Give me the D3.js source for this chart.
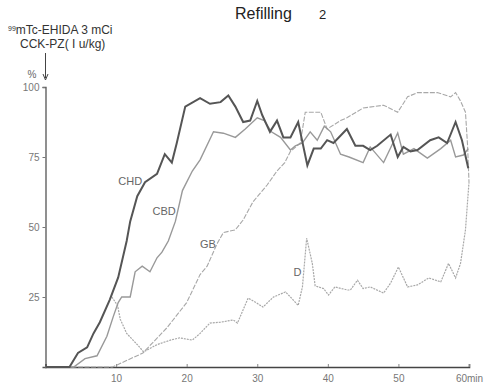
<!DOCTYPE html>
<html>
<head>
<meta charset="utf-8">
<script src="https://cdn.jsdelivr.net/npm/d3@7"></script>
<style>
  body { margin: 0; background: #fff; }
  svg { display: block; font-family: "Liberation Sans", Arial, sans-serif; }
</style>
</head>
<body>
<svg id="chart" width="497" height="389"></svg>
<script>
// minutes after injection, % of max counts
const chd = [[0,0],[3.4,0],[4.6,5],[5.9,7],[6.8,12],[7.7,16],[9.1,24],[10.3,32],[11.5,45],[12,52],[13,61],[14.1,66],[15.8,69],[16.9,76],[17.9,73],[18.6,80],[19.8,93],[21.9,96],[23.3,94],[24.8,94.6],[25.9,97],[26.9,93],[28,87.5],[29,88],[30,95],[30.7,90],[31.8,84],[32.8,88],[33.7,82],[34.7,82],[35.8,87.5],[37.1,72],[38,78],[39,78],[39.9,81],[40.8,80],[42.7,85],[43.9,79],[45,79],[46,77.5],[47,79],[48.9,83],[49.9,75],[50.7,78.6],[51.7,77],[52.7,77.5],[54.5,81],[55.7,82],[56.9,80],[58.1,87.5],[59,81],[59.9,71]];
const cbd = [[0,0],[4,0],[5.6,3],[7.3,4],[8.7,11],[9.6,18],[10.3,23],[10.8,25],[12,25],[12.7,34],[13.7,36],[14.8,34],[15.8,39],[16.5,41],[17.4,45],[18.4,52],[19.4,63],[20.8,70],[21.9,74],[23.8,84],[25.2,83.5],[26.9,82],[28.3,85],[30,89],[31,88],[32,84],[33.3,82],[34.7,77.5],[35.4,79],[36.4,80],[37.5,84],[38.5,81],[39.5,86],[40.4,84],[41.8,76],[43,75],[45,73],[46,78.6],[47.9,73],[49.9,83.6],[50.7,76],[52.2,78],[54.1,74.6],[56,78],[57.4,81],[58.1,75],[59.2,75.7],[59.9,78]];
const gb = [[0,0],[9.5,0],[13.8,5],[17.2,14],[20,23],[21.9,33],[22.9,36],[24.3,44],[25.2,48],[26.9,49],[28,52.5],[29.4,59],[30.4,62],[31.4,65],[32.8,70],[33.9,73],[34.7,77],[36.1,80],[36.8,91],[39,91],[39.9,85],[41.8,88],[42.7,89],[45,92.5],[47.9,93.5],[49.9,91],[51.3,96.5],[52.7,98],[55.5,98],[57.4,96.5],[58.1,98],[58.8,95],[59.5,91],[59.8,79],[60,66]];
const dd = [[9.4,25],[10.2,22],[10.6,17],[11.5,12],[13,8],[13.9,5.4],[15.8,8],[17.7,9.6],[19,10.4],[20.8,9.6],[21.9,12],[23.3,15.7],[24.8,16],[26.6,16.8],[27.2,15.7],[28.7,24.6],[29.9,22.9],[30.8,21.4],[32.3,25],[34,26.8],[34.7,25],[35.8,22],[36.4,28.6],[37,46],[37.8,37],[38.2,29],[39.4,28],[40.1,25.7],[41,28.6],[42.8,27.5],[43.2,27.5],[44.2,31],[45,28],[46,28.6],[47.9,26.4],[48.9,30],[50,35.7],[51.3,28.6],[52.7,29.3],[54.3,31.8],[56,30.4],[57.1,37],[58.1,31.8],[58.8,37],[59.5,49],[60,66]];

const xTicks = [10, 20, 30, 40, 50, 60];
const yTicks = [25, 50, 75, 100];

const svg = d3.select('#chart');
const x = d3.scaleLinear().domain([0, 60]).range([45.5, 469]);
const y = d3.scaleLinear().domain([0, 100]).range([367, 87]);

const line = d3.line().x(d => x(d[0])).y(d => y(d[1]));

// Axes
const xAxis = d3.axisBottom(x).tickValues(xTicks).tickSize(-3).tickPadding(8)
  .tickFormat(d => d === 60 ? '60min' : d);
const gx = svg.append('g').attr('transform', `translate(0,${y(0)})`).call(xAxis);
gx.select('.domain').attr('stroke', '#444').attr('stroke-width', 1.6);
gx.selectAll('.tick line').attr('stroke', '#888');
gx.selectAll('.tick text').attr('fill', '#777').attr('font-size', 10);

const yAxis = d3.axisLeft(y).tickValues(yTicks).tickSize(3).tickPadding(3);
const gy = svg.append('g').attr('transform', `translate(${x(0)},0)`).call(yAxis);
gy.select('.domain').attr('stroke', '#555').attr('stroke-width', 1.3);
gy.selectAll('.tick line').attr('stroke', '#777');
gy.selectAll('.tick text').attr('fill', '#777').attr('font-size', 10);

// Curves
svg.append('path').datum(gb).attr('d', line)
  .attr('fill', 'none').attr('stroke', '#a8a8a8').attr('stroke-width', 1.1)
  .attr('stroke-dasharray', '5,1.5');
svg.append('path').datum(dd).attr('d', line)
  .attr('fill', 'none').attr('stroke', '#a8a8a8').attr('stroke-width', 1.2)
  .attr('stroke-dasharray', '2,1');
svg.append('path').datum(cbd).attr('d', line)
  .attr('fill', 'none').attr('stroke', '#999').attr('stroke-width', 1.4);
svg.append('path').datum(chd).attr('d', line)
  .attr('fill', 'none').attr('stroke', '#555').attr('stroke-width', 2);

// Curve labels
const labels = [['CHD', 12, 66], ['CBD', 16.8, 55.5], ['GB', 23, 43.5], ['D', 35.7, 33.5]];
svg.selectAll('.lab').data(labels).enter().append('text')
  .attr('class', 'lab')
  .attr('x', d => x(d[1])).attr('y', d => y(d[2]))
  .attr('text-anchor', 'middle').attr('dominant-baseline', 'middle')
  .attr('fill', '#666').attr('font-size', 11)
  .text(d => d[0]);

// Title and annotations
svg.append('text').attr('x', 235).attr('y', 19).attr('font-size', 16).attr('fill', '#222')
  .text('Refilling');
svg.append('text').attr('x', 319).attr('y', 19).attr('font-size', 13).attr('fill', '#222')
  .text('2');

const ann = svg.append('text').attr('x', 8).attr('y', 34).attr('font-size', 12).attr('fill', '#333');
ann.append('tspan').attr('font-size', 7).attr('dy', -3).text('99');
ann.append('tspan').attr('dy', 3).text('mTc-EHIDA 3 mCi');
svg.append('text').attr('x', 20).attr('y', 48).attr('font-size', 12).attr('fill', '#333')
  .text('CCK-PZ( I u/kg)');

svg.append('line').attr('x1', x(0)).attr('x2', x(0)).attr('y1', 53).attr('y2', 78)
  .attr('stroke', '#444').attr('stroke-width', 1);
svg.append('path').attr('d', `M${x(0) - 2.5},74 L${x(0)},80 L${x(0) + 2.5},74`)
  .attr('fill', 'none').attr('stroke', '#444');
svg.append('text').attr('x', 32).attr('y', 78).attr('font-size', 10).attr('fill', '#666')
  .attr('text-anchor', 'middle').text('%');
</script>
</body>
</html>
